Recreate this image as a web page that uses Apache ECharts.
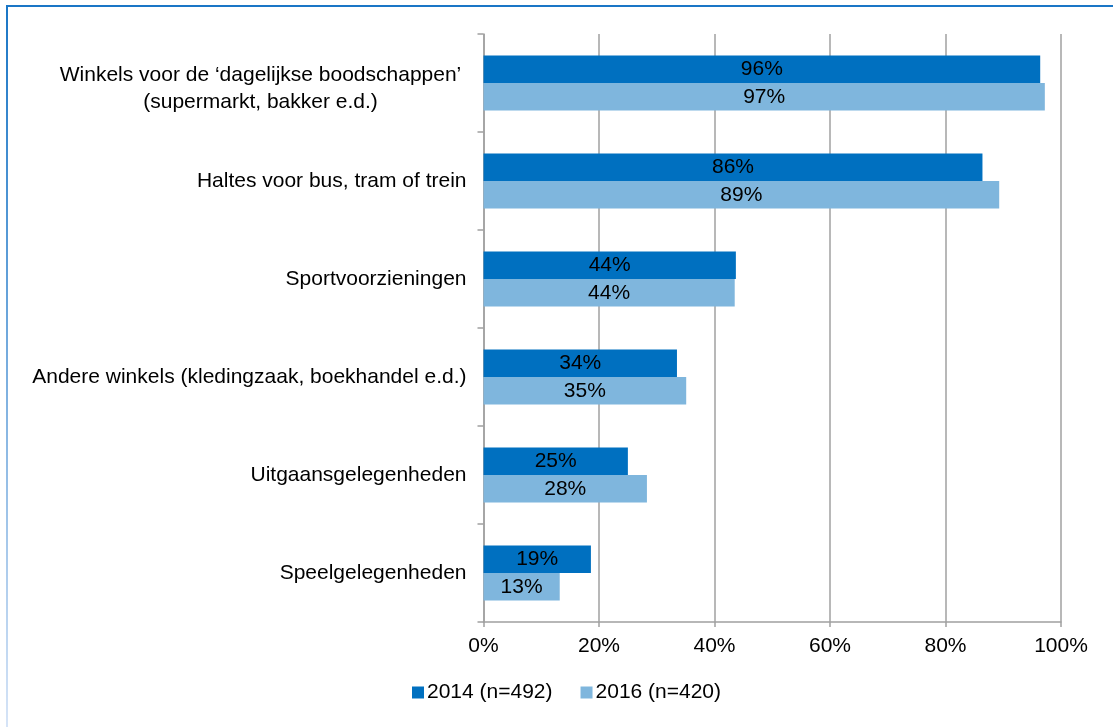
<!DOCTYPE html>
<html>
<head>
<meta charset="utf-8">
<script src="https://cdn.jsdelivr.net/npm/echarts@6/dist/echarts.min.js"></script>
<style>
  html, body { margin: 0; padding: 0; background: #fff; }
  #wrap { position: relative; width: 1113px; height: 727px; overflow: hidden; }
  #chart { position: absolute; left: 0; top: 0; width: 1113px; height: 727px; }
  .frame-top { position: absolute; left: 6px; top: 5px; right: 0; height: 2px; background: #1a76c6; }
  .frame-left { position: absolute; left: 6px; top: 5px; width: 2px; bottom: 0; background: linear-gradient(#1a76c6, #d6e4f7); }
</style>
</head>
<body>
<div id="wrap">
  <div id="chart"></div>
  <div class="frame-top"></div>
  <div class="frame-left"></div>
</div>
<script>
const categories = [
  'Winkels voor de ‘dagelijkse boodschappen’\n(supermarkt, bakker e.d.)',
  'Haltes voor bus, tram of trein',
  'Sportvoorzieningen',
  'Andere winkels (kledingzaak, boekhandel e.d.)',
  'Uitgaansgelegenheden',
  'Speelgelegenheden'
]
const values2014 = [96.4, 86.4, 43.7, 33.5, 25.0, 18.6]
const values2016 = [97.2, 89.3, 43.5, 35.1, 28.3, 13.2]
const seriesNames = ['2014 (n=492)', '2016 (n=420)']
const xTicks = [0, 20, 40, 60, 80, 100]

const font = 'Liberation Sans, Arial, sans-serif'
const fs = 21
const chart = echarts.init(document.getElementById('chart'))

const barLabel = {
  show: true,
  position: 'inside',
  color: '#000',
  fontSize: fs,
  fontFamily: font,
  formatter: p => Math.round(p.value) + '%'
}

// two-line labels: lines centred on each other and sitting a bit lower
const catData = categories.map(c => c.indexOf('\n') < 0 ? c : {
  value: c,
  textStyle: { padding: [12, 0, 0, 0] }
})
const catLabel = v => v.indexOf('\n') < 0 ? v : v.split('\n').map(s => '{c|' + s + '}').join('\n')

chart.setOption({
  animation: false,
  legend: {
    bottom: 19,
    left: 407,
    itemWidth: 12,
    itemHeight: 12,
    itemGap: 28,
    icon: 'rect',
    textStyle: { fontSize: fs, fontFamily: font, color: '#000', padding: [0, 0, 0, -2] },
    data: seriesNames
  },
  grid: { left: 483.5, right: 52, top: 34, bottom: 105 },
  xAxis: {
    type: 'value',
    min: xTicks[0],
    max: xTicks[xTicks.length - 1],
    interval: 20,
    axisLine: { show: true, lineStyle: { color: '#a0a0a0', width: 1.5 } },
    axisTick: { show: true, length: 5, lineStyle: { color: '#a0a0a0', width: 1.5 } },
    axisLabel: { margin: 14, fontSize: fs, fontFamily: font, color: '#000', formatter: v => v + '%' },
    splitLine: { show: true, lineStyle: { color: '#a0a0a0', width: 1.5 } }
  },
  yAxis: {
    type: 'category',
    inverse: true,
    data: catData,
    axisLine: { show: true, lineStyle: { color: '#a0a0a0', width: 1.5 } },
    axisTick: { show: true, length: 6, lineStyle: { color: '#a0a0a0', width: 1.5 } },
    axisLabel: {
      margin: 17,
      fontSize: fs,
      fontFamily: font,
      color: '#000',
      lineHeight: 27,
      formatter: catLabel,
      rich: {
        c: { width: 412, align: 'center', fontSize: fs, fontFamily: font, color: '#000', lineHeight: 27 }
      }
    }
  },
  series: [
    {
      name: seriesNames[0],
      type: 'bar',
      data: values2014,
      barGap: '0%',
      barCategoryGap: '44%',
      itemStyle: { color: '#0070c0' },
      label: barLabel
    },
    {
      name: seriesNames[1],
      type: 'bar',
      data: values2016,
      barGap: '0%',
      barCategoryGap: '44%',
      itemStyle: { color: '#7fb6dd' },
      label: barLabel
    }
  ]
})
</script>
</body>
</html>
